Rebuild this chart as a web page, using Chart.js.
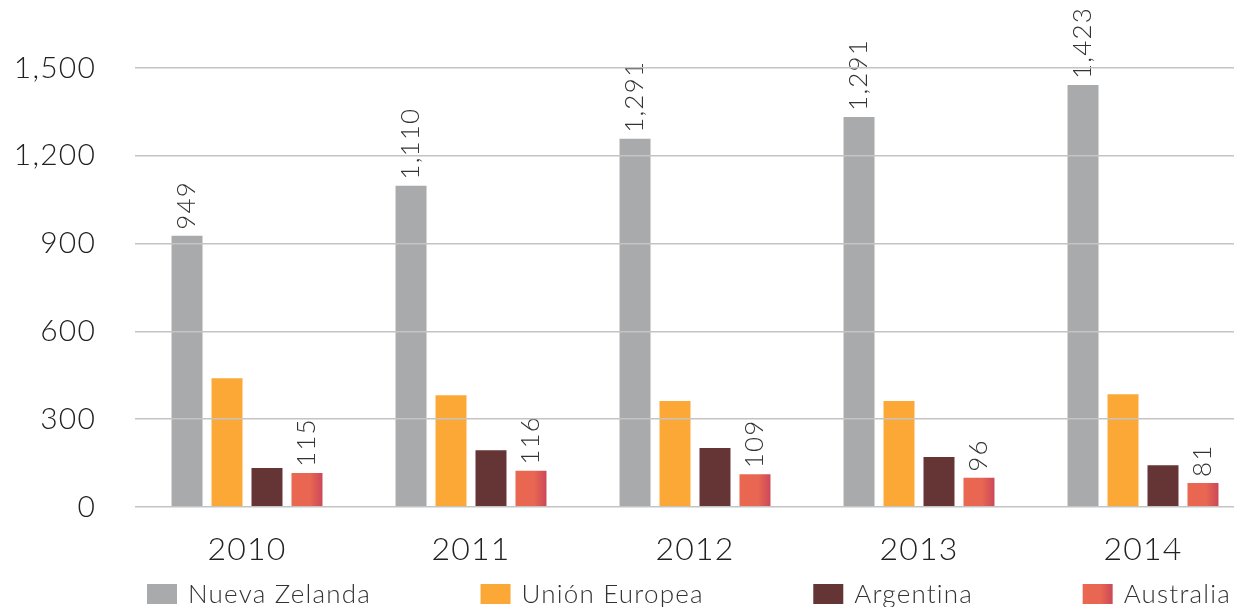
<!DOCTYPE html>
<html>
<head>
  <meta charset="utf-8" />
  <title>Nueva Zelanda vs. Unión Europea</title>
  <script src="https://cdn.jsdelivr.net/npm/chart.js"></script>
  <style>
    html, body { margin: 0; padding: 0; background: #fff; overflow: hidden; }
    #wrap { width: 1257px; height: 607px; }
  </style>
</head>
<body>
  <div id="wrap"><canvas id="chart"></canvas></div>

  <script>
    // years on the x axis
    const years = ['2010', '2011', '2012', '2013', '2014'];

    // bar heights
    const nuevaZelanda = [927, 1098, 1258, 1333, 1442];
    const unionEuropea = [440, 382, 362, 362, 385];
    const argentina = [133, 194, 202, 171, 143];
    const australia = [116, 124, 112, 100, 82];

    // the printed value labels (only two series carry them)
    const nzLabels = ['949', '1,110', '1,291', '1,291', '1,423'];
    const auLabels = ['115', '116', '109', '96', '81'];

    const yTicks = [0, 300, 600, 900, 1200, 1500];

    const FONT = 'Lato, "Open Sans", sans-serif';
    const SPACING = '1.2px';

    // Australia bars fade to a deeper red on their right edge
    function auGradient(ctx, left, right, fallback) {
      if (left == null || isNaN(left)) return fallback;
      const g = ctx.createLinearGradient(left, 0, right, 0);
      g.addColorStop(0, '#ea6851');
      g.addColorStop(0.6, '#e86652');
      g.addColorStop(1, '#cc4858');
      return g;
    }

    // a little extra tracking, closer to the original typeface
    const spacing = {
      id: 'spacing',
      beforeUpdate(chart) { chart.ctx.letterSpacing = SPACING; },
      beforeDraw(chart) { chart.ctx.letterSpacing = SPACING; }
    };

    // value labels, rotated, above the bars
    const valueLabels = {
      id: 'valueLabels',
      afterDatasetsDraw(chart) {
        const ctx = chart.ctx;
        const sets = [[0, nzLabels], [3, auLabels]];
        ctx.save();
        ctx.fillStyle = '#333';
        ctx.font = '300 26px ' + FONT;
        ctx.textAlign = 'left';
        ctx.textBaseline = 'middle';
        sets.forEach(([di, texts]) => {
          chart.getDatasetMeta(di).data.forEach((bar, i) => {
            ctx.save();
            ctx.translate(bar.x, bar.y - 6);
            ctx.rotate(-Math.PI / 2);
            ctx.fillText(texts[i], 0, 0);
            ctx.restore();
          });
        });
        ctx.restore();
      }
    };

    // legend drawn by hand so the items can spread over the full width
    const spreadLegend = {
      id: 'spreadLegend',
      afterDraw(chart) {
        const ctx = chart.ctx;
        const area = chart.chartArea;
        const boxW = 30, boxH = 20, gap = 11;
        const y = 594;
        ctx.save();
        ctx.font = '300 26px ' + FONT;
        ctx.textBaseline = 'middle';
        const items = chart.data.datasets.map(ds => ({
          label: ds.label,
          color: ds.legendColor,
          w: boxW + gap + ctx.measureText(ds.label).width
        }));
        const left = area.left + 12;
        const right = area.right - 24;
        const total = items.reduce((s, it) => s + it.w, 0);
        const space = (right - left - total) / (items.length - 1);
        let x = left;
        items.forEach((it, i) => {
          ctx.fillStyle = i === 3 ? auGradient(ctx, x, x + boxW, it.color) : it.color;
          ctx.fillRect(x, y - boxH / 2, boxW, boxH);
          ctx.fillStyle = '#333';
          ctx.fillText(it.label, x + boxW + gap, y + 1);
          x += it.w + space;
        });
        ctx.restore();
      }
    };

    const ctx = document.getElementById('chart').getContext('2d');
    const chart = new Chart(ctx, {
      type: 'bar',
      data: {
        labels: years,
        datasets: [
          { label: 'Nueva Zelanda', data: nuevaZelanda, backgroundColor: '#a9aaac', legendColor: '#a9aaac' },
          { label: 'Unión Europea', data: unionEuropea, backgroundColor: '#fca836', legendColor: '#fca836' },
          { label: 'Argentina', data: argentina, backgroundColor: '#653536', legendColor: '#653536' },
          {
            label: 'Australia', data: australia, legendColor: '#ea6851',
            backgroundColor: c => {
              const el = c.element;
              if (!el || el.x == null) return '#ea6851';
              return auGradient(c.chart.ctx, el.x - el.width / 2, el.x + el.width / 2, '#ea6851');
            }
          }
        ]
      },
      options: {
        responsive: true,
        maintainAspectRatio: false,
        animation: false,
        layout: { padding: { top: 68, right: 2, bottom: 40, left: 0 } },
        datasets: {
          bar: { categoryPercentage: 0.714, barPercentage: 0.775 }
        },
        plugins: {
          legend: { display: false },
          tooltip: { enabled: false }
        },
        scales: {
          x: {
            grid: { display: false, drawTicks: false },
            border: { display: false },
            ticks: {
              color: '#222',
              padding: 23,
              font: { family: FONT, size: 32, weight: '300' }
            },
            afterFit(scale) { scale.height = 60; }
          },
          y: {
            min: 0,
            max: 1500,
            afterBuildTicks(scale) { scale.ticks = yTicks.map(v => ({ value: v })); },
            grid: { color: '#c4c4c4', lineWidth: 1.5, drawTicks: false, z: 1 },
            border: { display: false },
            ticks: {
              color: '#222',
              padding: 39,
              font: { family: FONT, size: 30, weight: '300' },
              callback: v => v.toLocaleString('en-US')
            },
            afterFit(scale) { scale.width = 135; }
          }
        }
      },
      plugins: [spacing, valueLabels, spreadLegend]
    });
    // second pass so the gradient can use the bar positions
    chart.update('none');
  </script>
</body>
</html>
